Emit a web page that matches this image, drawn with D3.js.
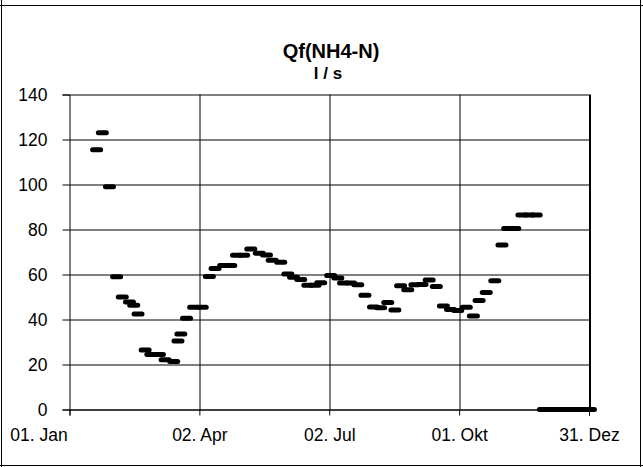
<!DOCTYPE html>
<html>
<head>
<meta charset="utf-8">
<script src="https://cdn.jsdelivr.net/npm/d3@7"></script>
<style>
  body { margin: 0; background: #fff; }
  svg { display: block; font-family: "Liberation Sans", Arial, sans-serif; }
</style>
</head>
<body>
<div id="chart"></div>
<script>
// day offsets from 01. Jan
const dayOfYear = [19, 23, 28, 33, 37, 42, 45, 48, 53, 57,
  63, 67, 73, 76, 78, 82, 87, 93, 98, 102,
  108, 113, 117, 122, 127, 133, 138, 142, 148, 153,
  157, 162, 167, 172, 176, 183, 188, 192, 197, 202,
  207, 213, 218, 223, 228, 232, 237, 242, 247, 252,
  257, 262, 267, 272, 278, 283, 287, 292, 298, 303,
  307, 312, 317, 322, 327, 332, 337, 342, 347, 352,
  357, 361, 365]
const flow = [115.4, 123, 99, 59, 50, 47.8, 46.3, 42.5, 26.4, 24.5,
  24.5, 22.1, 21.3, 30.5, 33.6, 40.6, 45.5, 45.5, 59.1, 62.7,
  64, 64, 68.6, 68.6, 71.3, 69.5, 68.7, 66.3, 65.5, 60.2,
  58.8, 57.8, 55.2, 55.2, 56.3, 59.6, 58.4, 56.2, 56.2, 55.4,
  50.8, 45.6, 45.2, 47.6, 44.2, 55, 53.2, 55.4, 55.6, 57.6,
  54.7, 46, 44.5, 44, 45.5, 41.6, 48.4, 52, 57.2, 73.1,
  80.4, 80.4, 86.5, 86.5, 86.5, 0, 0, 0, 0, 0,
  0, 0, 0]
const tickDates = ["2001-01-01", "2001-04-02", "2001-07-02", "2001-10-01", "2001-12-31"]
const tickLabels = ["01. Jan", "02. Apr", "02. Jul", "01. Okt", "31. Dez"]
const yTicks = [0, 20, 40, 60, 80, 100, 120, 140]

const W = 643, H = 467
const margin = { top: 94.5, right: 54, bottom: 57.5, left: 69.5 }
const width = W - margin.left - margin.right
const height = H - margin.top - margin.bottom

const start = new Date(Date.UTC(2001, 0, 1))
const data = dayOfYear.map((d, i) => ({ date: d3.utcDay.offset(start, d), v: flow[i] }))
const ticks = tickDates.map(s => new Date(s + "T00:00:00Z"))

const svg = d3.select("#chart").append("svg")
  .attr("width", W)
  .attr("height", H)

// outer chart frame
svg.append("g").attr("stroke", "#000").attr("stroke-width", 1)
  .selectAll("line")
  .data([[1.5, 0, 1.5, H], [640.5, 0, 640.5, H], [0, 5.5, W, 5.5], [0, 465.5, W, 465.5]])
  .join("line")
  .attr("x1", d => d[0]).attr("y1", d => d[1])
  .attr("x2", d => d[2]).attr("y2", d => d[3])

svg.append("text")
  .attr("x", 331).attr("y", 58)
  .attr("text-anchor", "middle")
  .style("font-size", "20px").style("font-weight", "bold")
  .text("Qf(NH4-N)")
svg.append("text")
  .attr("x", 328).attr("y", 79)
  .attr("text-anchor", "middle")
  .style("font-size", "17px").style("font-weight", "bold")
  .text("l / s")

const g = svg.append("g")
  .attr("transform", "translate(" + margin.left + "," + margin.top + ")")

const x = d3.scaleUtc().domain([ticks[0], ticks[4]]).range([0, width])
const y = d3.scaleLinear().domain([0, 140]).range([height, 0])

// horizontal grid
g.append("g")
  .selectAll("line")
  .data(yTicks)
  .join("line")
  .attr("x1", 0).attr("x2", width)
  .attr("y1", d => Math.round(y(d)) + 0.5).attr("y2", d => Math.round(y(d)) + 0.5)
  .attr("stroke", "#000")

// vertical grid (last one is the plot border, drawn a bit heavier)
g.append("g")
  .selectAll("line")
  .data(ticks.slice(1))
  .join("line")
  .attr("x1", d => Math.round(x(d)) + 0.5).attr("x2", d => Math.round(x(d)) + 0.5)
  .attr("y1", 0).attr("y2", height)
  .attr("stroke", "#000")
  .attr("stroke-width", (d, i) => i === 3 ? 2 : 1)

// y axis
const yAxis = g.append("g")
  .call(d3.axisLeft(y).tickValues(yTicks).tickSize(7).tickPadding(15))
yAxis.selectAll("text").style("font-size", "17.5px").attr("fill", "#000")
yAxis.selectAll("line").attr("stroke", "#000")
yAxis.select(".domain").attr("stroke", "#000")

// x axis
const xAxis = g.append("g")
  .attr("transform", "translate(0," + height + ")")
  .call(d3.axisBottom(x).tickValues(ticks).tickSize(6).tickPadding(13)
    .tickFormat((d, i) => tickLabels[i]))
xAxis.selectAll("text").style("font-size", "17.5px").attr("fill", "#000")
xAxis.selectAll("line").attr("stroke", "#000")
xAxis.select(".domain").attr("stroke", "#000")
xAxis.selectAll(".tick").filter((d, i) => i === 0).select("text").attr("dx", -31)

// dash markers
g.append("g")
  .selectAll("rect")
  .data(data)
  .join("rect")
  .attr("x", d => x(d.date) - 6.5)
  .attr("y", d => y(d.v) - 2.5)
  .attr("width", 13)
  .attr("height", 5)
  .attr("rx", 2.5)
  .attr("fill", "#000")
</script>
</body>
</html>
